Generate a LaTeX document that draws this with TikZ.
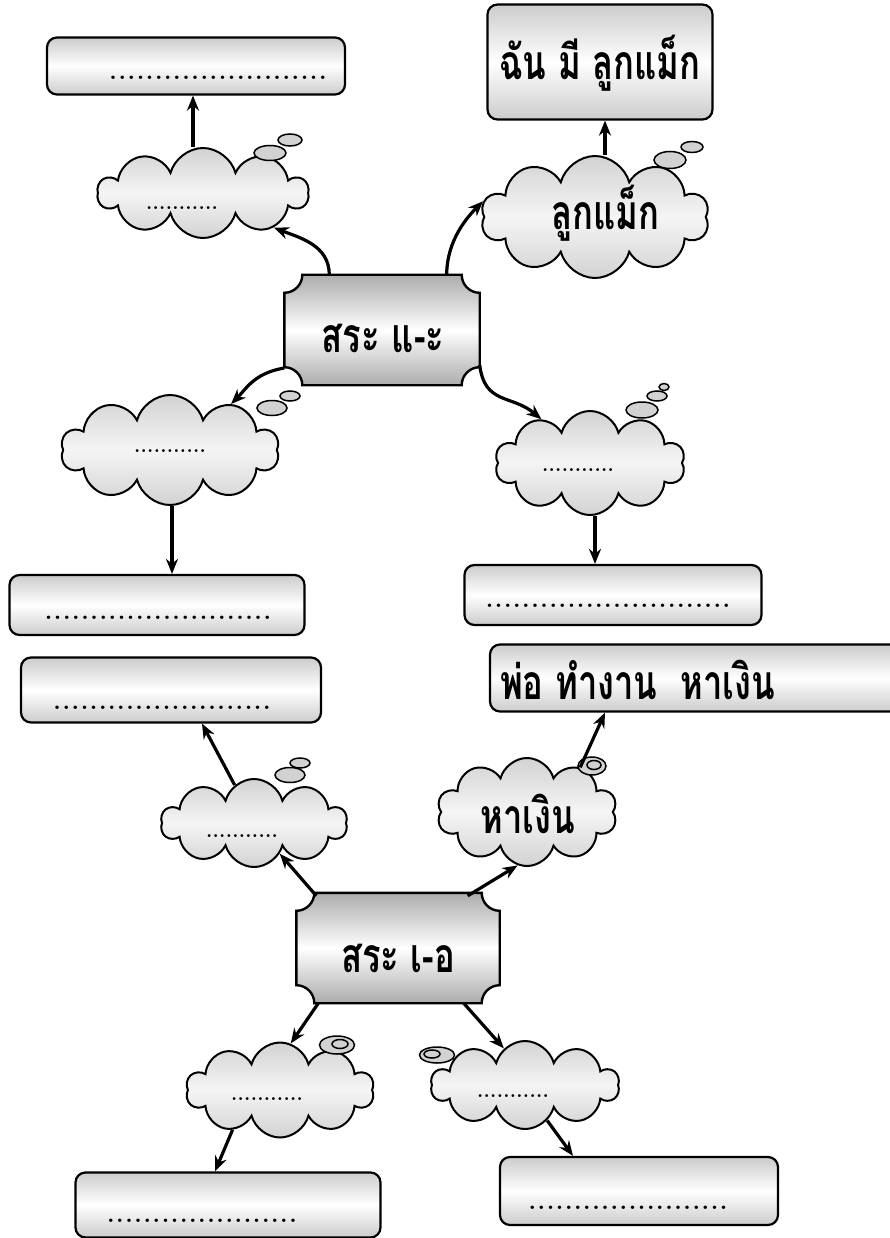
\documentclass[tikz,border=0pt]{standalone}
\usepackage{fontspec}
\newfontfamily\thaifont[Script=Thai,FakeStretch=0.72]{Loma}
\usetikzlibrary{shapes.symbols,shapes.geometric,arrows.meta}

\newcommand\dotrow[2]{\foreach \k in {1,...,#1}{.\hspace{#2}}}
% plaque with hollow corners round an empty node
\newcommand\plaquepath[1]{%
  \path[plaqueshade] ([xshift=18pt]#1.north west) -- ([xshift=-18pt]#1.north east)
    arc[start angle=180,end angle=270,radius=18pt] -- ([yshift=18pt]#1.south east)
    arc[start angle=90,end angle=180,radius=18pt] -- ([xshift=18pt]#1.south west)
    arc[start angle=0,end angle=90,radius=18pt] -- ([yshift=-18pt]#1.north west)
    arc[start angle=270,end angle=360,radius=18pt] -- cycle;}

\tikzset{
  answerbox/.style={draw,line width=2.2pt,rounded corners=10pt,top color=gray!40,
    bottom color=gray!40,middle color=white,inner sep=0pt},
  plaque/.style={inner sep=0pt},
  plaqueshade/.style={draw,line width=2.4pt,top color=gray!65,bottom color=gray!65,
    middle color=white},
  thought/.style={cloud,cloud puffs=10,cloud ignores aspect,draw,line width=2pt,
    top color=gray!35,bottom color=gray!35,middle color=gray!8,inner sep=0pt},
  bubble/.style={ellipse,draw,line width=1.5pt,fill=gray!35,inner sep=0pt},
  link/.style={line width=3.2pt,-{Stealth[length=15pt,width=12pt]}},
  thaitext/.style={font=\thaifont\bfseries\fontsize{48}{48}\selectfont,inner sep=0pt},
  boxdots/.style={font=\bfseries\fontsize{24}{24}\selectfont,inner sep=0pt},
  clouddots/.style={font=\bfseries\fontsize{20}{20}\selectfont,inner sep=0pt},
}

\begin{document}
\begin{tikzpicture}[x=1pt,y=-1pt]
\useasboundingbox (0,0) rectangle (890,1238);

% The boxes
\node[answerbox,minimum width=298pt,minimum height=57pt] (bTL) at (196,66) {};
\node[answerbox,minimum width=225pt,minimum height=115pt] (bTR) at (600,62) {};
\node[answerbox,minimum width=295pt,minimum height=60pt] (bML) at (157,605) {};
\node[answerbox,minimum width=297pt,minimum height=60pt] (bMR) at (613,595) {};
\node[answerbox,minimum width=300pt,minimum height=65pt] (bLL) at (171,690) {};
\node[answerbox,minimum width=420pt,minimum height=67pt] (bLR) at (700,678) {};
\node[answerbox,minimum width=305pt,minimum height=65pt] (bBL) at (228,1205) {};
\node[answerbox,minimum width=278pt,minimum height=68pt] (bBR) at (639,1191) {};

% Texts of the boxes
\node[boxdots] (bTL-txt) at (218,78) {\dotrow{24}{1.6pt}};
\node[thaitext] (bTR-txt) at (600,63) {ฉัน มี ลูกแม็ก};
\node[boxdots] (bML-txt) at (158,618) {\dotrow{25}{1.6pt}};
\node[boxdots] (bMR-txt) at (608,606) {\dotrow{27}{1.6pt}};
\node[boxdots] (bLL-txt) at (162,708) {\dotrow{24}{1.6pt}};
\node[thaitext,anchor=west] (bLR-txt) at (500,680) {พ่อ ทำงาน\ \ หาเงิน};
\node[boxdots] (bBL-txt) at (202,1221) {\dotrow{21}{1.6pt}};
\node[boxdots] (bBR-txt) at (628,1208) {\dotrow{22}{1.6pt}};

% The clouds and their bubbles
\node[thought,minimum width=210pt,minimum height=90pt] (cTL) at (203,193) {};
\node[bubble,minimum width=32pt,minimum height=15pt] (cTL-b1) at (270,153) {};
\node[bubble,minimum width=24pt,minimum height=12pt] (cTL-b2) at (290,140) {};
\node[thought,minimum width=228pt,minimum height=122pt] (cTR) at (595,217) {};
\node[bubble,minimum width=32pt,minimum height=17pt] (cTR-b1) at (670,160) {};
\node[bubble,minimum width=22pt,minimum height=11pt] (cTR-b2) at (692,147) {};
\node[thought,minimum width=218pt,minimum height=110pt] (cML) at (170,450) {};
\node[bubble,minimum width=30pt,minimum height=15pt] (cML-b1) at (272,408) {};
\node[bubble,minimum width=20pt,minimum height=10pt] (cML-b2) at (290,396) {};
\node[thought,minimum width=190pt,minimum height=104pt] (cMR) at (590,463) {};
\node[bubble,minimum width=32pt,minimum height=16pt] (cMR-b1) at (642,410) {};
\node[bubble,minimum width=20pt,minimum height=10pt] (cMR-b2) at (657,396) {};
\node[bubble,minimum width=10pt,minimum height=7pt] (cMR-b3) at (664,387) {};
\node[thought,minimum width=186pt,minimum height=88pt] (cLL) at (254,823) {};
\node[bubble,minimum width=30pt,minimum height=15pt] (cLL-b1) at (290,775) {};
\node[bubble,minimum width=20pt,minimum height=10pt] (cLL-b2) at (300,763) {};
\node[thought,minimum width=180pt,minimum height=108pt] (cLR) at (527,812) {};
\node[bubble,minimum width=28pt,minimum height=18pt] (cLR-b1) at (592,766) {};
\node[bubble,minimum width=14pt,minimum height=9pt] (cLR-b2) at (594,765) {};
\node[thought,minimum width=188pt,minimum height=95pt] (cBL) at (280,1090) {};
\node[bubble,minimum width=35pt,minimum height=18pt] (cBL-b1) at (337,1045) {};
\node[bubble,minimum width=16pt,minimum height=9pt] (cBL-b2) at (340,1044) {};
\node[thought,minimum width=188pt,minimum height=88pt] (cBR) at (525,1085) {};
\node[bubble,minimum width=35pt,minimum height=16pt] (cBR-b1) at (437,1055) {};
\node[bubble,minimum width=16pt,minimum height=8pt] (cBR-b2) at (432,1054) {};

% Texts of the clouds
\node[clouddots] (cTL-txt) at (182,208) {\dotrow{11}{0.3pt}};
\node[thaitext] (cTR-txt) at (605,213) {ลูกแม็ก};
\node[clouddots] (cML-txt) at (170,451) {\dotrow{11}{0.3pt}};
\node[clouddots] (cMR-txt) at (578,470) {\dotrow{11}{0.3pt}};
\node[clouddots] (cLL-txt) at (242,836) {\dotrow{11}{0.3pt}};
\node[thaitext] (cLR-txt) at (528,814) {หาเงิน};
\node[clouddots] (cBL-txt) at (267,1099) {\dotrow{11}{0.3pt}};
\node[clouddots] (cBR-txt) at (513,1096) {\dotrow{11}{0.3pt}};

% The two plaques
\node[plaque,minimum width=195pt,minimum height=110pt] (sae) at (382,330) {};
\plaquepath{sae}
\node[thaitext] (sae-txt) at (383,338) {สระ แ-ะ};
\node[plaque,minimum width=203pt,minimum height=110pt] (seo) at (398,948) {};
\plaquepath{seo}
\node[thaitext] (seo-txt) at (398,958) {สระ เ-อ};

% Arrows of the upper plaque
\draw[link] ([xshift=45pt]sae.north west) .. controls +(0,-30) and +(25,10) .. (cTL.-26);
\draw[link] ([xshift=-33pt]sae.north east) .. controls +(0,-35) and +(-15,15) .. (cTR.172);
\draw[link] ([yshift=-38pt]sae.west) .. controls +(-30,5) and +(15,-15) .. (cML.37);
\draw[link] ([yshift=-35pt]sae.east) .. controls +(5,40) and +(-30,-25) .. (cMR.138);
\draw[link] ([xshift=-10pt]cTL.north) -- ([xshift=-3pt]bTL.south);
\draw[link] ([xshift=10pt]cTR.north) -- ([xshift=5pt]bTR.south);
\draw[link] ([xshift=2pt]cML.south) -- ([xshift=15pt]bML.north);
\draw[link] ([xshift=5pt]cMR.south) -- ([xshift=-18pt]bMR.north);

% Arrows of the lower plaque
\draw[link] ([shift={(20pt,-3pt)}]seo.north west) -- (cLL.-50);
\draw[link] ([shift={(-32pt,-3pt)}]seo.north east) -- (cLR.-100);
\draw[link] ([xshift=22pt]seo.south west) -- (cBL.77);
\draw[link] ([xshift=-36pt]seo.south east) -- (cBR.120);
\draw[link] (cLL.117) -- ([xshift=31pt]bLL.south);
\draw[link] (cLR.40) -- ([xshift=-95pt]bLR.south);
\draw[link] (cBL.-140) -- ([xshift=-13pt]bBL.north);
\draw[link] (cBR.-58) -- ([xshift=-66pt]bBR.north);

\end{tikzpicture}
\end{document}
